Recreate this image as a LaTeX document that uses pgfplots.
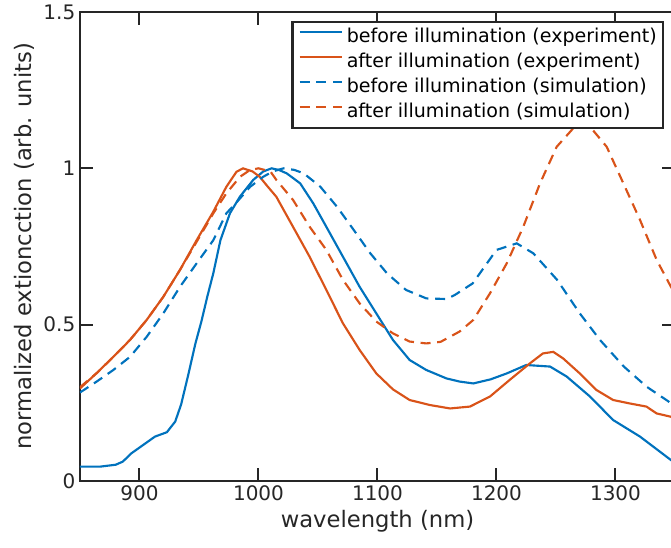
\documentclass[border=0pt]{standalone}
\usepackage{pgfplots}
\pgfplotsset{compat=1.18}
\usepackage{fontspec}
\setmainfont{DejaVu Sans}
\definecolor{mblue}{rgb}{0,0.447,0.741}
\definecolor{morange}{rgb}{0.85,0.325,0.098}
\definecolor{axc}{rgb}{0.15,0.15,0.15}
\begin{document}
\begin{tikzpicture}
\begin{axis}[
  name=ax,
  scale only axis,
  width=446.25pt, height=351.75pt,
  xmin=850, xmax=1350, ymin=0, ymax=1.5,
  xtick={900,1000,1100,1200,1300},
  ytick={0,0.5,1,1.5},
  yticklabels={0,0.5,1,1.5},
  /pgf/number format/assume math mode=true,
  /pgf/number format/1000 sep={},
  tick align=inside,
  major tick length=9.75pt,
  axis line style={axc, line width=1.5pt},
  every tick/.style={axc, line width=1.5pt},
  tick label style={font=\fontsize{15}{18}\selectfont, text=axc},
  xlabel={wavelength (nm)},
  ylabel={normalized extioncction (arb. units)},
  label style={font=\fontsize{17}{20}\selectfont, text=axc},
  legend style={at={(0.9815,0.9808)}, anchor=north east, draw=axc, line width=1.8pt,
    font=\fontsize{14.3}{17}\selectfont, inner xsep=4.5pt, inner ysep=3.6pt,
    nodes={inner sep=0pt, text height=12pt, text depth=4pt},
    row sep=2.75pt, column sep=3pt},
  legend cell align=left,
  legend image code/.code={\draw[#1] (0pt,4pt) -- (31.5pt,4pt);},
]
\addplot[mblue, line width=1.6pt] coordinates {
(850,0.046)(867,0.046)(880,0.052)(886,0.062)(893,0.088)(903,0.115)(913,0.142)(923,0.156)
(930,0.19)(935,0.245)(941,0.34)(947,0.44)(952,0.51)(957,0.59)(962,0.664)(968,0.77)
(976,0.856)(984.5,0.91)(995.6,0.963)(1004,0.99)(1011,1.0)(1017,0.995)(1023.7,0.984)
(1035,0.952)(1046,0.888)(1057,0.813)(1071,0.717)(1085,0.621)(1099,0.536)(1113,0.451)
(1127,0.387)(1141,0.355)(1158,0.328)(1169,0.318)(1180.5,0.312)(1195,0.325)(1208.6,0.344)
(1225,0.371)(1245,0.366)(1259,0.334)(1278.6,0.27)(1298,0.195)(1320.6,0.142)(1346.6,0.067)(1350,0.058)
};
\addlegendentry{before illumination (experiment)}
\addplot[morange, line width=1.6pt] coordinates {
(850,0.296)(864,0.345)(878,0.397)(892,0.451)(906,0.515)(920,0.589)(934,0.675)(948,0.77)
(962,0.861)(973,0.941)(981.5,0.989)(987,1.0)(995,0.99)(1001,0.973)(1007,0.945)(1015,0.909)
(1029,0.813)(1043,0.717)(1057,0.611)(1071,0.504)(1085,0.419)(1099,0.344)(1113,0.293)
(1127,0.259)(1144,0.243)(1161,0.232)(1177.7,0.238)(1194.5,0.27)(1211,0.323)(1228,0.376)
(1239,0.408)(1247.7,0.413)(1256,0.392)(1270,0.344)(1284,0.291)(1298,0.259)(1312,0.248)
(1326,0.238)(1334.6,0.216)(1346,0.206)(1350,0.2)
};
\addlegendentry{after illumination (experiment)}
\addplot[mblue, line width=1.6pt, dash pattern=on 7.5pt off 5pt] coordinates {
(850,0.283)(864,0.318)(878,0.355)(892,0.397)(906,0.461)(920,0.536)(934,0.621)(948,0.696)(962,0.77)
(973,0.856)(982,0.893)(993,0.941)(1004,0.973)(1012,0.99)(1021,1.0)(1030,0.995)(1038,0.984)
(1052,0.941)(1066,0.877)(1080,0.803)(1094,0.728)(1108,0.664)(1124,0.611)(1141,0.584)
(1158,0.582)(1165,0.595)(1180,0.632)(1200,0.739)(1217,0.76)(1231,0.728)(1251,0.643)
(1270,0.536)(1287,0.451)(1307,0.366)(1326,0.302)(1347,0.248)(1350,0.24)
};
\addlegendentry{before illumination (simulation)}
\addplot[morange, line width=1.6pt, dash pattern=on 7.5pt off 5pt] coordinates {
(850,0.30)(864,0.345)(878,0.397)(892,0.451)(906,0.515)(920,0.589)(934,0.675)(948,0.765)(962,0.856)(973,0.92)(984.5,0.973)(993,0.995)
(1000,1.0)(1010,0.99)(1015,0.963)(1029,0.899)(1043,0.813)(1057,0.739)(1071,0.643)(1085,0.568)
(1099,0.51)(1113,0.472)(1127,0.446)(1141,0.44)(1153,0.445)(1169,0.478)(1180.5,0.515)
(1194.5,0.60)(1208.6,0.696)(1222.5,0.813)(1236.6,0.952)(1250.6,1.069)(1264.5,1.128)
(1272,1.14)(1278.6,1.133)(1292.6,1.069)(1306.6,0.952)(1320.6,0.835)(1334.6,0.707)
(1346.6,0.621)(1350,0.60)
};
\addlegendentry{after illumination (simulation)}
\end{axis}
\pgfresetboundingbox
\path[use as bounding box] ([shift={(-60pt,-50.25pt)}]ax.south west) rectangle ++(503.25pt,411pt);
\end{tikzpicture}
\end{document}
